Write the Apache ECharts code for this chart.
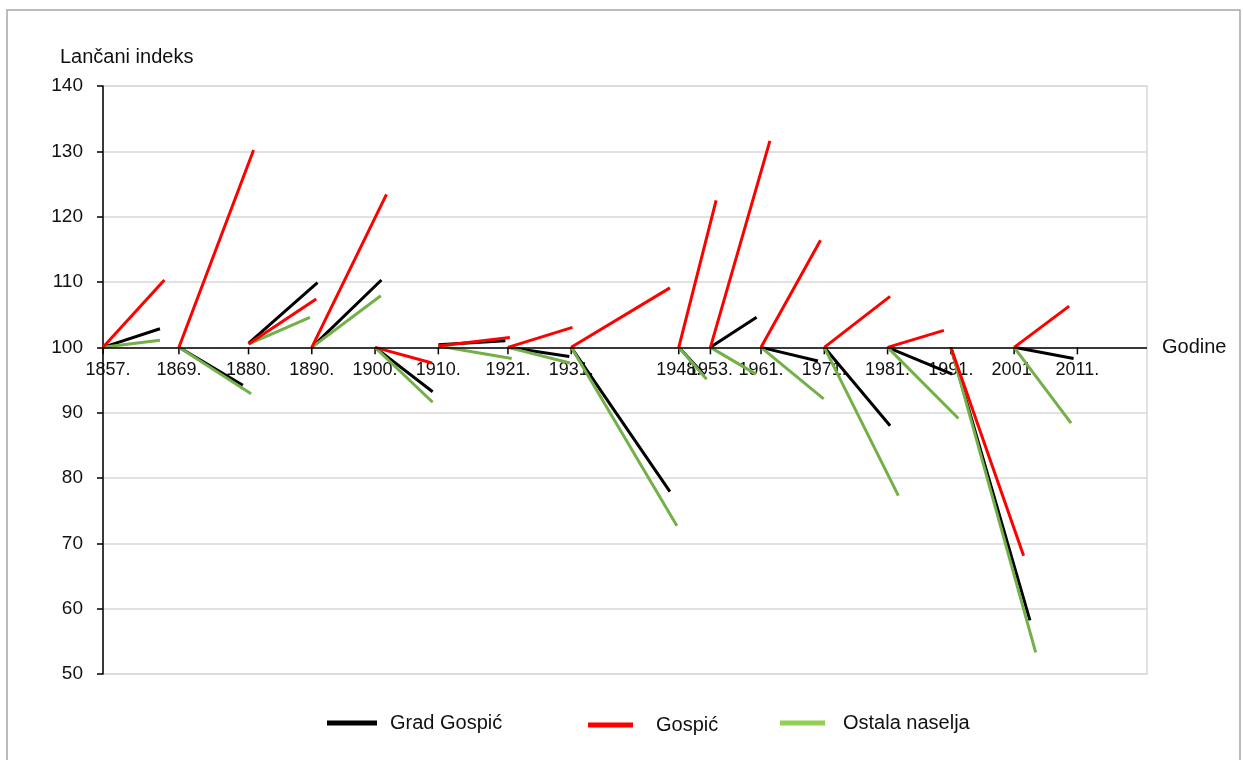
<!DOCTYPE html>
<html><head><meta charset="utf-8">
<script src="https://cdn.jsdelivr.net/npm/echarts@6/dist/echarts.min.js"></script>
<style>html,body{margin:0;padding:0;background:#fff}#c{width:1243px;height:760px}</style>
</head><body><div id="c"></div>
<script>
// Census years (start of each chain-index interval) and their labels
const years = [1857,1869,1880,1890,1900,1910,1921,1931,1948,1953,1961,1971,1981,1991,2001,2011];
const yearLabels = years.map(y => y + '.');
const yTicks = [50,60,70,80,90,100,110,120,130,140];

// Grad Gospić (black)
const gradStart  = [100,100,100.6,100,100,100.4,100,100,100,100,100,100,100,100,100];
const gradEndX   = [1866.0,1879.1,1890.9,1901.0,1909.1,1920.6,1930.7,1946.6,1952.0,1960.3,1970.0,1981.4,1991.2,2003.5,2010.4];
const gradValues = [102.85,94.2,109.9,110.3,93.2,101.0,98.6,77.9,95.8,104.6,97.9,88.0,95.9,58.2,98.3];

// Gospić (red)
const gospStart  = [100,100,100.5,100,100,100.2,100,100,100,100,100,100,100,100,100];
const gospEndX   = [1866.7,1880.8,1890.7,1901.8,1909.0,1921.3,1931.2,1946.6,1953.9,1962.4,1970.4,1981.4,1989.9,2002.5,2009.7];
const gospValues = [110.3,130.2,107.4,123.4,97.6,101.5,103.05,109.1,122.5,131.6,116.4,107.8,102.6,68.1,106.3];

// Ostala naselja (green)
const ostStart   = [100,100,100.5,100,100,100.2,100,100,100,100,100,100,100,100,100];
const ostEndX    = [1866.0,1880.4,1889.7,1900.9,1909.1,1921.6,1930.8,1947.7,1952.4,1960.2,1970.9,1982.7,1992.2,2004.4,2010.0];
const ostValues  = [101.1,92.9,104.6,107.9,91.6,98.3,97.6,72.7,95.1,95.9,92.1,77.3,89.1,53.3,88.4];

function segs(start, endX, values) {
  const d = [];
  for (let i = 0; i < values.length; i++) {
    d.push([years[i], start[i]]);
    d.push([endX[i], values[i]]);
    d.push([endX[i], '-']);
  }
  return d;
}

const BLACK = '#000000', RED = '#ff0000', GREEN = '#74b04a';
const TXT = '#111111';
const FONT = '"Liberation Sans", Arial, sans-serif';

const chart = echarts.init(document.getElementById('c'), null, {renderer: 'canvas'});
chart.setOption({
  animation: false,
  backgroundColor: '#ffffff',
  textStyle: {fontFamily: FONT},
  graphic: [{
    type: 'rect', shape: {x: 7, y: 10, width: 1233, height: 760},
    style: {fill: 'none', stroke: '#a6a6a6', lineWidth: 1.5}, silent: true
  }],
  title: {
    text: 'Lančani indeks', left: 55, top: 42,
    textStyle: {fontSize: 20, fontWeight: 'normal', color: TXT, fontFamily: FONT}
  },
  legend: [
    {left: 322, top: 708, icon: 'rect', itemWidth: 50, itemHeight: 5,
     data: ['Grad Gospić'], textStyle: {fontSize: 20, color: TXT, padding: [0,0,0,8], fontFamily: FONT}},
    {left: 583, top: 710, icon: 'rect', itemWidth: 45, itemHeight: 5,
     data: ['Gospić'], textStyle: {fontSize: 20, color: TXT, padding: [0,0,0,18], fontFamily: FONT}},
    {left: 775, top: 708, icon: 'rect', itemWidth: 45, itemHeight: 5,
     data: [{name: 'Ostala naselja', itemStyle: {color: '#92d050'}}],
     textStyle: {fontSize: 20, color: TXT, padding: [0,0,0,13], fontFamily: FONT}}
  ],
  grid: {left: 103, right: 96, top: 86, bottom: 86, show: true, borderColor: '#d9d9d9', borderWidth: 1.5},
  xAxis: {
    type: 'value', min: 1857, max: 2022,
    axisLine: {show: false}, axisTick: {show: false}, axisLabel: {show: false}, splitLine: {show: false}
  },
  yAxis: {
    type: 'value', min: yTicks[0], max: yTicks[yTicks.length - 1], interval: 10,
    axisLine: {show: true, lineStyle: {color: BLACK, width: 1.5}},
    axisTick: {show: true, length: 6, lineStyle: {color: BLACK, width: 1.5}},
    axisLabel: {fontSize: 19, color: TXT, margin: 20, fontFamily: FONT},
    splitLine: {show: true, lineStyle: {color: '#d9d9d9', width: 1.5}}
  },
  series: [
    {
      type: 'scatter', name: 'ticks', silent: true, z: 1,
      symbol: 'rect', symbolSize: [1.5, 7], symbolOffset: [0, 3.5],
      itemStyle: {color: BLACK, opacity: 1},
      data: years.map(y => [y, 100]),
      markLine: {
        silent: true, symbol: ['none', 'none'],
        lineStyle: {color: BLACK, width: 1.5, type: 'solid'},
        label: {show: true, position: 'end', formatter: 'Godine', fontSize: 20, color: TXT, distance: 15, fontFamily: FONT},
        data: [{yAxis: 100}]
      }
    },
    {
      type: 'scatter', name: 'labels', silent: true, z: 2,
      symbolSize: 1, itemStyle: {color: 'rgba(0,0,0,0)', opacity: 1},
      label: {
        show: true, position: 'bottom', distance: 13, fontSize: 18, color: TXT, fontFamily: FONT,
        formatter: p => yearLabels[p.dataIndex]
      },
      data: years.map((y, i) => i === 0 ? {value: [y, 100], label: {offset: [5, 0]}} : [y, 100])
    },
    {
      type: 'line', name: 'Grad Gospić', showSymbol: false, symbol: 'none', connectNulls: false, z: 3,
      lineStyle: {color: BLACK, width: 3}, itemStyle: {color: BLACK},
      data: segs(gradStart, gradEndX, gradValues)
    },
    {
      type: 'line', name: 'Ostala naselja', showSymbol: false, symbol: 'none', connectNulls: false, z: 3,
      lineStyle: {color: GREEN, width: 3}, itemStyle: {color: GREEN},
      data: segs(ostStart, ostEndX, ostValues)
    },
    {
      type: 'line', name: 'Gospić', showSymbol: false, symbol: 'none', connectNulls: false, z: 3,
      lineStyle: {color: RED, width: 3}, itemStyle: {color: RED},
      data: segs(gospStart, gospEndX, gospValues)
    }
  ]
});
</script></body></html>
